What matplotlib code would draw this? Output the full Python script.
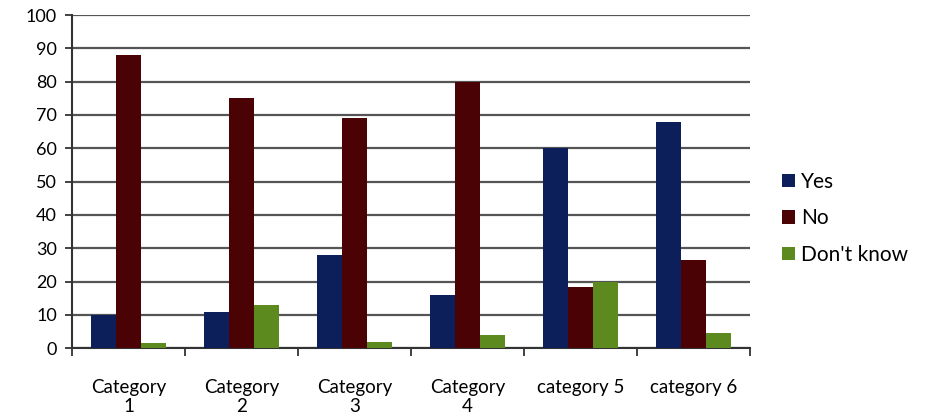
import numpy as np
import matplotlib.pyplot as plt

categories = ['Category\n1', 'Category\n2', 'Category\n3', 'Category\n4', 'category 5', 'category 6']
yes = [10, 11, 28, 16, 60, 68]
no = [88, 75, 69, 80, 18.5, 26.5]
dont_know = [1.5, 13, 2, 4, 20, 4.5]

plt.rcParams['font.family'] = ['Lato', 'DejaVu Sans']

fig = plt.figure(figsize=(9.26, 4.18), dpi=100)
ax = fig.add_axes([0.078, 0.167, 0.732, 0.797])

x = np.arange(len(categories))
w = 0.22
ax.bar(x - w, yes, w, color='#0c1f5a', label='Yes', zorder=3)
ax.bar(x, no, w, color='#4a0204', label='No', zorder=3)
ax.bar(x + w, dont_know, w, color='#5c8a1e', label="Don't know", zorder=3)

ax.set_xlim(-0.5, len(categories) - 0.5)
ax.set_ylim(0, 100)
ax.set_yticks(range(0, 101, 10))
ax.yaxis.grid(True, color='#555555', linewidth=1.6, zorder=0)

ax.set_xticks(x)
ax.set_xticklabels(categories, fontsize=13.5, linespacing=1.15)
ax.tick_params(axis='x', length=0, pad=22)
ax.set_xticks(np.arange(-0.5, len(categories)), minor=True)
ax.tick_params(axis='x', which='minor', length=6, width=1.3, color='#333333', direction='out')
ax.tick_params(axis='y', length=5, width=1.3, color='#333333', labelsize=13, pad=6)

for s in ['top', 'right']:
    ax.spines[s].set_visible(False)
for s in ['left', 'bottom']:
    ax.spines[s].set_color('#333333')
    ax.spines[s].set_linewidth(1.5)

ax.legend(loc='center left', bbox_to_anchor=(1.02, 0.39), frameon=False, fontsize=15,
          handlelength=0.6, handleheight=0.6, handletextpad=0.3, labelspacing=0.8)

fig.savefig('out.png', dpi=100)
